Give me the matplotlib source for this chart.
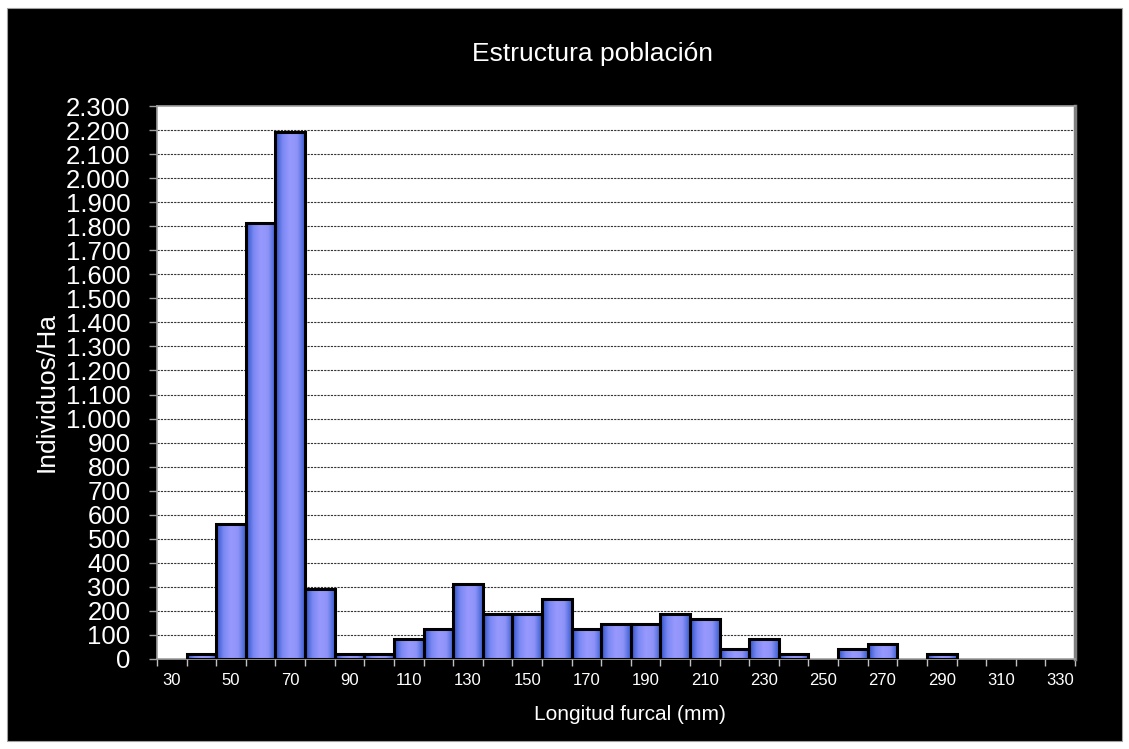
import numpy as np
import matplotlib
matplotlib.use('Agg')
import matplotlib.pyplot as plt
from matplotlib.colors import LinearSegmentedColormap
from matplotlib.patches import Rectangle

# longitud furcal (mm) por clase y densidad estimada (individuos/Ha)
clases = list(range(30, 340, 10))
densidad = [0, 21, 563, 1815, 2190, 292, 21, 21, 83, 125, 313, 188, 188, 250,
            125, 146, 146, 188, 167, 42, 83, 21, 0, 42, 63, 0, 21, 0, 0, 0, 0]
yticks = list(range(0, 2400, 100))

plt.rcParams['font.family'] = ['Liberation Sans', 'DejaVu Sans']

W, H = 1129, 749
fig = plt.figure(figsize=(W / 100, H / 100), dpi=100)
fig.patch.set_facecolor('white')
fig.patches.append(Rectangle((7/W, 8/H), 1115/W, 733/H, transform=fig.transFigure,
                             facecolor='black', edgecolor='#a0a0a0', lw=0.8, zorder=-10))

ax = fig.add_axes([157/W, 90/H, 918/W, 553/H])
ax.set_facecolor('white')

# degradado horizontal de las barras
cmap = LinearSegmentedColormap.from_list('barra', ['#2c50c8', '#7a88f2', '#9999ff', '#8e93f8', '#3a5ed0'])
grad = np.linspace(0, 1, 64).reshape(1, -1)

x = np.arange(len(clases))
for xi, v in zip(x, densidad):
    if v <= 0:
        continue
    ax.imshow(grad, cmap=cmap, aspect='auto', extent=(xi - 0.5, xi + 0.5, 0, v),
              zorder=2, interpolation='bilinear')
    ax.add_patch(Rectangle((xi - 0.5, 0), 1, v, facecolor='none', edgecolor='black',
                           lw=2.2, zorder=3))

ax.set_xlim(-0.5, len(clases) - 0.5)
ax.set_ylim(0, 2300)

for y in yticks[1:-1]:
    ax.axhline(y, color='#333333', lw=0.8, ls=(0, (2, 1)), zorder=1)

ax.set_yticks(yticks)
ax.set_yticklabels(['{:,}'.format(t).replace(',', '.') for t in yticks])
ax.tick_params(axis='y', colors='#a0a0a0', labelcolor='white', labelsize=18.5,
               length=6, width=1, pad=13)

ax.set_xticks(np.arange(len(clases) + 1) - 0.5)
ax.set_xticklabels([])
ax.set_xticks(x, minor=True)
ax.set_xticklabels([str(c) if i % 2 == 0 else '' for i, c in enumerate(clases)], minor=True)
ax.tick_params(axis='x', which='major', colors='#c0c0c0', length=5, width=1)
ax.tick_params(axis='x', which='minor', length=0, labelcolor='white', labelsize=12, pad=10)

for s in ['left', 'bottom', 'top']:
    ax.spines[s].set_color('#a0a0a0')
    ax.spines[s].set_linewidth(1.2)
ax.spines['right'].set_color('#808080')
ax.spines['right'].set_linewidth(2.5)

fig.text(47/W, 1 - 392/H, 'Individuos/Ha', color='white', fontsize=19,
         rotation=90, ha='center', va='center')
fig.text(630/W, 1 - 714/H, 'Longitud furcal (mm)', color='white', fontsize=15,
         ha='center', va='center')
fig.text(592/W, 1 - 61/H, 'Estructura población', color='white', fontsize=19,
         ha='center', va='baseline')

plt.savefig('out.png', dpi=100, facecolor=fig.get_facecolor())
